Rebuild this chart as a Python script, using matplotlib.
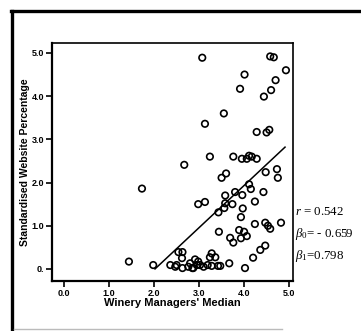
# plot.py
# Scatter of winery managers' median vs standardised website percentage

import matplotlib
matplotlib.use("Agg")
import matplotlib.pyplot as plt
from matplotlib.lines import Line2D

# points
managers_median = [
    3.07, 4.58, 4.66, 4.93, 4.01, 4.70, 3.91, 4.60, 4.44, 3.55,
    3.13, 4.28, 4.50, 4.56, 1.73, 1.44, 1.98, 2.36, 2.47, 2.67,
    3.24, 3.76, 3.95, 4.06, 4.11, 4.17, 4.28, 4.48, 4.73, 4.75,
    3.60, 3.50, 4.11, 4.15, 3.80, 3.96, 4.43, 3.58, 2.98, 3.13,
    3.58, 3.74, 3.56, 4.24, 3.97, 3.43, 3.93, 4.24, 4.47, 4.53,
    4.58, 4.82, 3.44, 3.89, 4.00, 3.69, 3.76, 3.93, 4.06, 4.47,
    4.36, 4.20, 4.02, 3.67, 2.54, 2.63, 2.62, 2.50, 2.63, 2.85,
    2.91, 2.98, 2.95, 3.02, 3.10, 3.28, 3.24, 3.36, 3.19, 3.28,
    3.42, 3.47, 2.76, 2.80, 2.87,
]
website_pct = [
    4.89, 4.92, 4.90, 4.60, 4.50, 4.37, 4.17, 4.14, 3.99, 3.60,
    3.36, 3.17, 3.16, 3.22, 1.86, 0.17, 0.09, 0.09, 0.05, 2.41,
    2.60, 2.60, 2.55, 2.55, 2.62, 2.60, 2.55, 2.24, 2.31, 2.11,
    2.21, 2.11, 1.96, 1.85, 1.78, 1.71, 1.78, 1.70, 1.50, 1.55,
    1.52, 1.50, 1.41, 1.56, 1.40, 1.31, 1.20, 1.04, 1.07, 1.00,
    0.93, 1.07, 0.86, 0.90, 0.86, 0.72, 0.61, 0.71, 0.76, 0.54,
    0.44, 0.26, 0.02, 0.13, 0.39, 0.39, 0.25, 0.09, 0.02, 0.02,
    0.22, 0.17, 0.09, 0.09, 0.05, 0.36, 0.27, 0.27, 0.09, 0.07,
    0.07, 0.07, 0.05, 0.13, 0.02,
]

# fitted line as drawn (in plot units)
fit_x = [2.02, 4.91]
fit_y = [0.0, 2.82]

x_ticks = [0, 1, 2, 3, 4, 5]
x_tick_labels = ["0.0", "1.0", "2.0", "3.0", "4.0", "5.0"]
y_ticks = [0, 1, 2, 3, 4, 5]
y_tick_labels = ["0.", "1.0", "2.0", "3.0", "4.0", "5.0"]

stats_text = [
    r"$r$ = 0.542",
    r"$\beta_0$= - 0.659",
    r"$\beta_1$=0.798",
]

plt.rcParams["font.family"] = ["Liberation Sans", "DejaVu Sans"]
plt.rcParams["mathtext.fontset"] = "custom"
plt.rcParams["mathtext.rm"] = "Liberation Serif"
plt.rcParams["mathtext.it"] = "Liberation Serif:italic"

fig = plt.figure(figsize=(3.61, 3.31), dpi=100)
ax = fig.add_axes([0.144, 0.151, 0.668, 0.719])

ax.scatter(
    managers_median,
    website_pct,
    s=22,
    facecolors="none",
    edgecolors="black",
    linewidths=1.2,
    zorder=3,
)
ax.plot(fit_x, fit_y, color="black", linewidth=1.1, zorder=2)

ax.set_xlim(-0.27, 5.09)
ax.set_ylim(-0.28, 5.23)

ax.set_xticks(x_ticks)
ax.set_xticklabels(x_tick_labels, fontsize=6.5, fontweight="bold")
ax.set_yticks(y_ticks)
ax.set_yticklabels(y_tick_labels, fontsize=6.5, fontweight="bold")
ax.tick_params(direction="out", length=4, width=1.2, pad=1.5)

for side in ["left", "bottom"]:
    ax.spines[side].set_linewidth(1.6)
for side in ["top", "right"]:
    ax.spines[side].set_linewidth(1.2)

ax.set_xlabel("Winery Managers' Median", fontsize=8, fontweight="bold", labelpad=0.5)
ax.set_ylabel("Standardised Website Percentage", fontsize=7.5, fontweight="bold", labelpad=1)

# regression stats to the right of the axes
for i, txt in enumerate(stats_text):
    fig.text(0.818, 0.36 - i * 0.066, txt, fontsize=9.3,
             family="Liberation Serif", va="center", ha="left")

# outer frame of the scanned figure
fig.add_artist(Line2D([0.033, 0.033], [0.0, 0.967], color="black", linewidth=2.4))
fig.add_artist(Line2D([0.03, 1.0], [0.967, 0.967], color="black", linewidth=2.4))
fig.add_artist(Line2D([0.04, 0.78], [0.006, 0.006], color="#bbbbbb", linewidth=1.0))

fig.savefig("out.png", dpi=100)
